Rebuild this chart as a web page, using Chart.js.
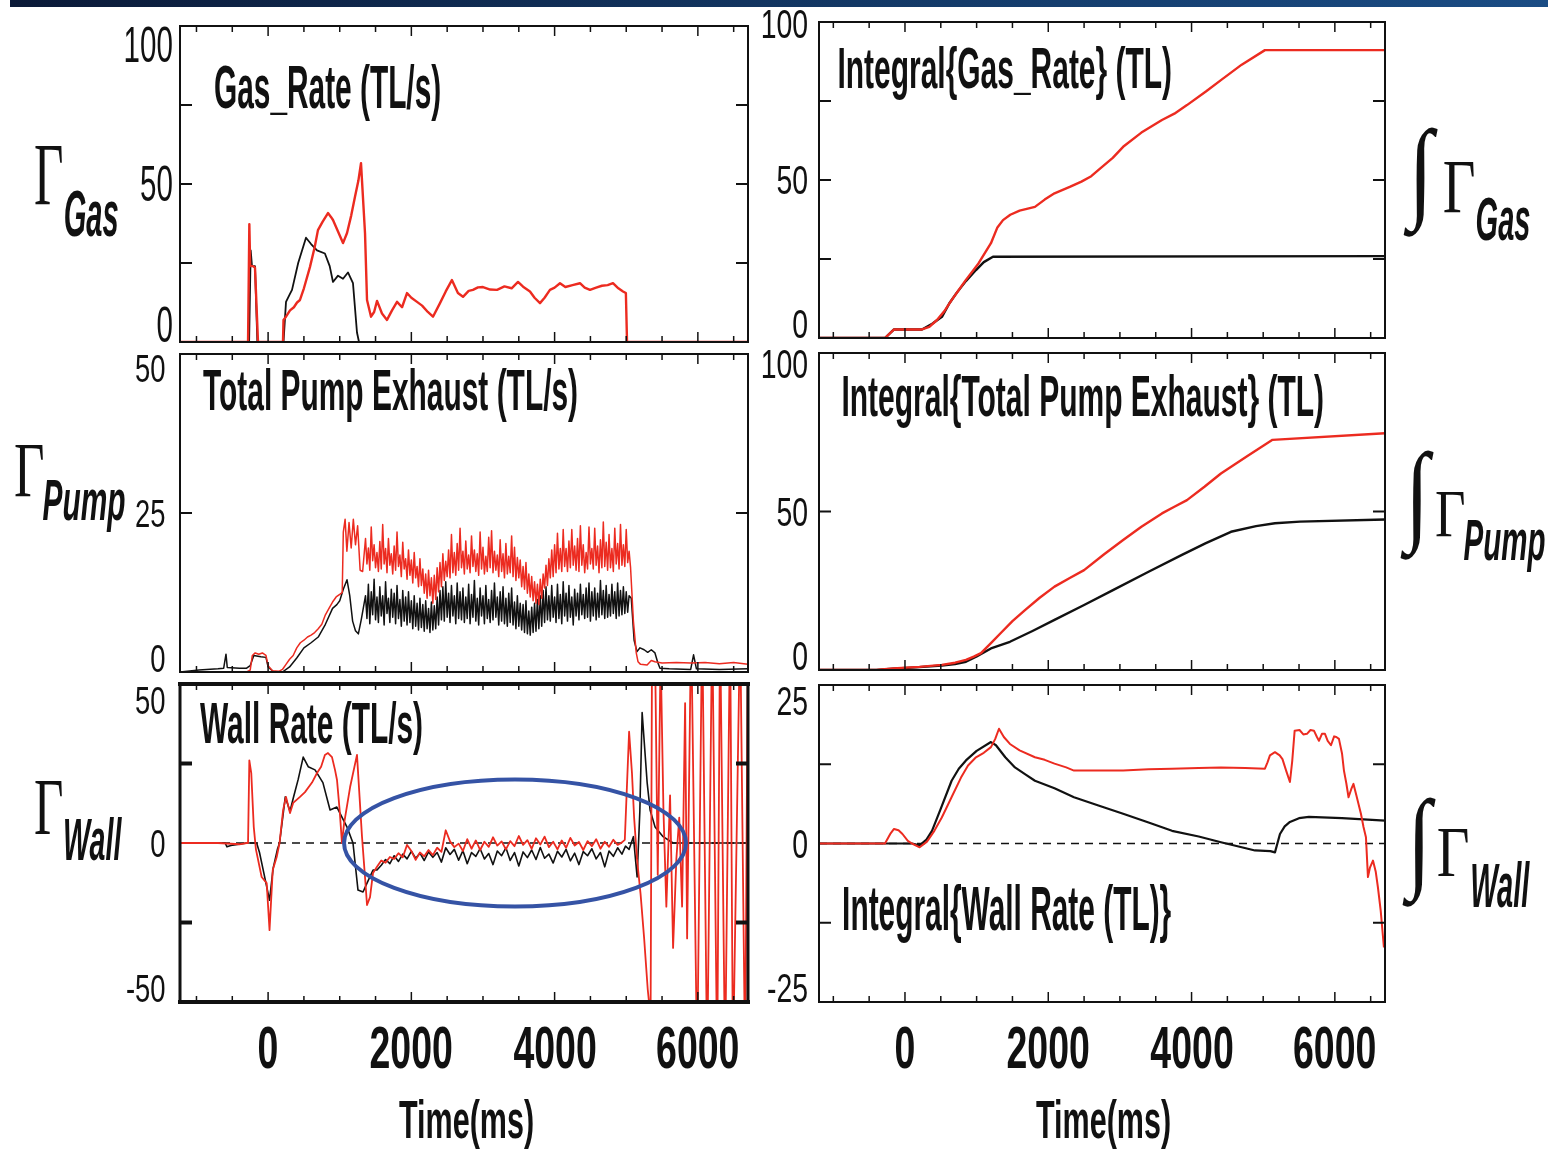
<!DOCTYPE html>
<html lang="en">
<head>
<meta charset="UTF-8">
<title>Gas, pump and wall particle balance</title>
<script src="https://cdn.jsdelivr.net/npm/chart.js"></script>
<style>
    body { margin: 0; background: #ffffff; }
    #page { position: relative; width: 1548px; height: 1151px; overflow: hidden; background: #ffffff; }
    #topbar { position: absolute; left: 10px; top: 0; width: 1538px; height: 7px;
              background: linear-gradient(90deg, #0b1a38 0%, #133865 55%, #1a4c84 100%); }
    #page canvas { position: absolute; left: 0; top: 0; }
</style>
</head>
<body>
<div id="page"><div id="topbar"></div></div>
<script>
// ---- time axis ticks (ms) ----
const xTickLabels = [0, 2000, 4000, 6000];
const xMinorStep = 500;

// ---- Gas_Rate (TL/s) : [time ms, value] ----
const gasRateBlack = [[-1230,0],[-265,0],[-255,0],[-243,29],[-225,24],[-183,24],[-150,0],[215,0],[250,12.7],[300,15],
    [334,16.5],[420,25],[529,33],[600,31],[683,29],[793,28],[860,24],[906,19],[976,21],[1046,20],[1115,22],
    [1185,18.6],[1241,3],[1269,0],[6700,0]];
const gasRateRed = [[-1230,0],[-280,0],[-262,37.3],[-250,24],[-211,24],[-183,23.5],[-141,0],[208,0],[215,7],[250,8],
    [306,10],[360,11],[404,12.5],[445,13.3],[500,17],[584,23.7],[650,30],[696,35.4],[760,38],[836,40.8],[880,39.5],
    [906,38.6],[976,35],[1046,31.3],[1102,34.5],[1160,40],[1213,46],[1260,51],[1297,56.6],[1353,34.5],[1381,13.3],
    [1437,8],[1480,9.5],[1521,13],[1590,9],[1660,7],[1730,10],[1800,12.7],[1870,11],[1939,15.5],[2000,14],
    [2079,12.7],[2150,11.5],[2230,9.5],[2302,8],[2400,12.3],[2480,16],[2566,19.6],[2650,15.5],[2721,14.3],
    [2800,16.2],[2860,16.5],[2930,17.3],[3000,17.4],[3100,16.6],[3196,16.5],[3300,17.6],[3400,17],[3489,19],
    [3560,17.5],[3656,16],[3720,14],[3796,12.3],[3860,14],[3935,16.5],[4000,17.2],[4075,18.6],[4150,17.4],
    [4250,18],[4354,18.6],[4420,17.2],[4494,16.5],[4580,17.2],[4660,17.8],[4740,18],[4815,18.6],[4890,17],
    [4955,16],[4995,15.5],[5011,0],[6700,0]];

// ---- Integral{Gas_Rate} (TL) ----
const gasIntRed = [[-1200,0],[-279,0],[-153,2.7],[237,2.7],[340,3.5],[447,5.7],[550,8.5],[651,12],[751,15.2],
    [851,18.4],[1026,23.6],[1200,30],[1290,35],[1368,37.3],[1470,39],[1600,40.3],[1814,41.5],[1950,43.8],
    [2087,45.8],[2300,47.8],[2463,49.5],[2600,51.2],[2702,53.2],[2900,57],[3045,60.5],[3300,65],[3587,69],
    [3760,71],[3936,73.7],[4200,78],[4410,81.6],[4700,86.5],[5024,91.1],[6700,91.1]];
const gasIntBlack = [[-1200,0],[-279,0],[-153,2.7],[237,2.7],[380,4.5],[516,6.7],[620,11],[719,14.2],[850,18],
    [991,21.5],[1100,24],[1228,25.7],[6700,25.9]];

// ---- Total Pump Exhaust (TL/s) ----
const pumpRedStart = [[-1230,0],[-300,0],[-250,0.3],[-220,2.6],[-180,3],[-130,2.8],[-80,3],[-30,2.6],[0,1],[60,0.2],
    [150,0.1],[200,0.4],[250,1.2],[300,2],[350,2.6],[400,3.8],[450,4.6],[500,5],[550,5.5],[600,5.8],[650,6.2],
    [700,6.8],[750,7.5],[800,9],[850,10],[900,11],[950,11.8],[1000,12.2],[1035,12.5],[1050,22],[1075,24],
    [1100,19],[1130,23.5],[1160,19.5],[1190,24],[1220,20],[1250,23],[1285,16],[1320,15.8]];
const pumpBlackStart = [[-1230,0],[-965,0.3],[-700,0.5],[-620,0.6],[-588,2.8],[-570,0.7],[-400,0.6],[-300,0.6],
    [-250,1],[-200,2.6],[-100,2.4],[-30,2.3],[0,0.8],[80,0],[200,0],[300,0.8],[400,2.2],[500,3.8],[600,4.6],
    [700,5.5],[800,7.5],[900,10],[960,10.6],[1000,11.2],[1050,13],[1102,14.5],[1140,12],[1180,8],[1220,6.5],
    [1260,6],[1300,8.2]];
// flat-top part, one reading every 20 ms from 1360 ms
const pumpBandStart = 1360, pumpBandStep = 20;
const pumpRedBand = [
    21,17,19.5,16,22.8,17.5,20,16.4,18.8,15.8,   20.5,16.2,23.2,17,19.4,15.6,21,16.8,18.6,15.4,
    19.8,16,22,16.6,18.4,15,20.4,16.2,17.8,14.6,   19.2,15.2,17.6,14,18.8,14.8,16.6,13.4,17.8,13.6,
    16.2,12.4,15.4,11.6,16,12,14.8,10.8,15.2,11.4,   16.4,12.6,17.2,13.4,18.6,14.4,17.4,15,19.2,14.8,
    21.6,15.6,18.8,15.2,20.2,16,22.6,16.4,19,15.4,   20.6,16.2,18.4,15.6,21.4,16.6,19.2,15.8,18.6,15.2,
    22,16.2,19.6,15.4,18.2,15.8,21.2,16.4,22.2,15.6,   19,16,18.4,15,20.8,15.8,18.6,14.8,20.2,15.4,
    18.2,15.6,21.4,15,19.6,14.4,18,14.8,17.6,13.4,   16.6,13,17.2,12.4,15.4,11.8,15,11.2,14.2,10.8,
    13.8,10.6,14.6,11.6,15.4,13.2,16.8,13.6,17.8,14.8,   19.2,15,20,15.6,21.8,16.2,19.4,15.8,22.4,16.6,
    19.4,15.8,20.6,16.4,22.4,16.8,19.8,16,21,15.8,   23,16.8,20,15.6,18.8,16.2,22.8,17,19.4,16.2,
    22.6,16.8,19.8,15.6,20.8,16.4,23.6,16.6,20.4,16,   21.6,16.4,19.4,15.8,22.6,17,20.2,16.2,23.2,16.8,
    20,16.6,22.4,17.2,19];
const pumpBlackBand = [
    12,8.4,13.8,7.6,12.6,9,14.6,8.2,11.8,7.8,   13.4,8.8,12,7.4,14.2,9.2,11.6,7.8,13,8.6,
    12.4,7.6,13.6,8.4,11.4,7.2,12.8,8,11.8,7.4,   12.6,7.8,11.2,6.8,12,7.2,10.8,6.6,11.6,7,
    10.6,6.4,11.2,6.8,10,6.2,11,6.6,10.4,6.8,   11.8,7.4,12.8,8.2,13.4,8,14.2,8.6,12.4,7.8,
    13.6,8.8,12,7.6,14,8.4,12.6,8.2,13.2,7.8,   11.8,8.4,13.8,7.6,12.2,8.6,14.4,8,11.6,7.4,
    13.2,8.8,12,7.6,13.6,8.4,11.4,7.8,12.8,8.2,   14,8.6,11.8,7.4,12.6,8,13.4,7.6,11.6,7.2,
    12.4,7.8,13.2,7.4,11,6.8,12,7.2,10.8,6.6,   10.6,6.2,11.2,6,9.6,5.8,10.2,6.2,10.8,6.4,
    11.4,6.8,12,7.2,12.8,7.8,13.4,8.2,12,8,   13.6,8.6,11.8,7.8,13.8,8.4,12.2,7.6,14.2,8.8,
    12.4,8,13.6,8.6,11.8,7.4,13,8.8,12.4,8.2,   13.8,9,12.2,8.4,13.2,8.6,14,8,12.6,8.8,
    13.2,8.2,12.4,8.6,14.4,9,12.8,8.4,13.6,8.6,   12.2,8.8,13.8,9.2,12.6,8.4,14,8.8,12.8,9,
    13.4,9.2,12.6,9.4,12];
const pumpRedEnd = [[5060,16.5],[5100,8],[5140,3],[5165,1.6],[5200,1.2],[5291,1.1],[5350,1.8],[5400,1.6],
    [5500,1.4],[5700,1.5],[5900,1.4],[6100,1.5],[6300,1.3],[6500,1.5],[6700,1.2]];
const pumpBlackEnd = [[5070,11.6],[5110,5],[5150,3.2],[5192,3.8],[5250,3.5],[5300,3.1],[5350,3.5],[5401,3],
    [5440,1.5],[5471,0.6],[5600,0.5],[5900,0.4],[5940,2.7],[5980,0.5],[6300,0.4],[6700,0.5]];

// ---- Integral{Total Pump Exhaust} (TL) ----
const pumpIntRed = [[-1200,0],[-400,0],[-167,0.5],[200,1],[514,1.6],[700,2.3],[851,3.2],[960,4.2],[1061,5.3],
    [1200,8.5],[1334,11.6],[1500,15.4],[1675,18.9],[1880,22.8],[2087,26.3],[2300,29],[2500,31.5],[2780,36.5],
    [3045,41],[3300,45.2],[3587,49.4],[3760,51.5],[3936,53.6],[4180,57.8],[4410,62],[4780,67.5],[5130,72.6],
    [6700,74.7]];
const pumpIntBlack = [[-1200,0],[-400,0],[-167,0.4],[200,0.9],[514,1.4],[700,1.9],[851,2.6],[1000,4.3],[1200,6.8],
    [1465,8.9],[1780,12.3],[2087,15.8],[2500,20.5],[2903,25.2],[3400,31],[3866,36.3],[4200,40],[4550,43.6],
    [4900,45.4],[5164,46.3],[5513,46.8],[6700,47.5]];

// ---- Wall Rate (TL/s) ----
const wallRedStart = [[-1230,0],[-700,0],[-400,-0.4],[-300,0],[-280,0],[-262,26],[-235,22],[-200,5],[-170,-2],
    [-90,-10.7],[-20,-12.6],[20,-27.4],[65,-8.5],[120,-4.4],[160,0],[210,10.4],[250,14.5],[306,9.4],[350,12.6],
    [445,14.5],[515,16],[613,19],[683,22],[740,24],[793,27.7],[836,28.3],[892,27],[934,23],[962,19.8],[1000,10],
    [1031,0],[1060,6],[1145,17.6],[1241,27.7],[1311,2],[1353,-10.7],[1381,-19.5],[1423,-17],[1465,-9.4]];
const wallBlackStart = [[-1230,0],[-600,0],[-574,-1.2],[-520,-0.8],[-450,-0.5],[-300,0],[-160,0],[-120,-3],
    [-60,-9.4],[20,-18],[70,-8],[130,-2],[160,0],[240,14.5],[306,10],[350,14],[420,20],[490,27],[560,24],
    [655,23],[765,19],[865,10.4],[960,11.3],[1102,5],[1185,0],[1255,-14.8],[1325,-15.4],[1381,-12.6],[1465,-8.5]];
// quiet phase, one reading every 60 ms from 1520 ms
const wallBandStart = 1520, wallBandStep = 60;
const wallRedBand = [-7.5,-5.5,-6.2,-4.4,-5,-3.2,-4.5,-0.6,-2.5,-5.3,-3,-4.2,-2.2,-3.8,-1.5,-2.8,4,0.5,-1.3,-0.2,
    -2.5,1.2,-1.8,0.8,-2.2,0.4,-1.2,1.8,-0.8,0.5,-2,0.6,-1,2.2,-0.6,0.9,-1.8,1.5,-0.5,2,-1.3,0.4,-2,0.8,-1.5,1.6,
    -0.8,0.3,-2.2,0.6,-1,1.2,-1.8,0.4,-1.2,1,-0.6,0.2];
const wallBlackBand = [-8.5,-7,-5.2,-6.5,-4,-5.8,-3.5,-5,-2.6,-4.8,-3.2,-5.5,-2.8,-4.5,-3,-6,-1.5,-3.6,-2,-5.4,
    -2.4,-6.5,-3,-4.2,-1.8,-5,-3.3,-6.8,-2.5,-4,-1.5,-5.5,-3,-7.2,-2.8,-4.6,-2.2,-5.2,-1.4,-4.8,-3.5,-6.3,-2.6,
    -4.4,-2,-5.6,-3.2,-6.8,-2.7,-4,-1.8,-5,-3,-7.5,-2.5,-4.2,-1.5,-3.5];
const wallRedEnd = [[4980,1],[5040,35],[5080,22],[5110,8],[5150,-5],[5200,-16],[5250,-30],[5300,-46],[5340,-55],
    [5360,60],[5400,65],[5440,-10],[5480,60],[5520,10],[5560,-20],[5612,15],[5654,-33],[5700,-5],[5740,8],
    [5780,-20],[5822,44],[5850,-30],[5906,70],[5990,-70],[6060,70],[6130,-70],[6200,70],[6270,-70],[6310,70],
    [6380,-70],[6450,70],[6490,-70],[6590,70],[6660,-70],[6700,70]];
const wallBlackEnd = [[4990,-1],[5040,-2],[5100,2],[5152,-10.7],[5190,10],[5222,41],[5292,19],[5333,10.4],
    [5403,5],[5515,2],[5654,0],[6700,0]];
// quiet-phase highlight: centre (ms, TL/s) and half widths
const wallHighlight = { t: 3447, v: 0, dt: 2387, dv: 20 };

// ---- Integral{Wall Rate} (TL) ----
const wallIntRed = [[-1200,0],[-279,0],[-200,1.6],[-153,2.3],[-90,2.1],[-35,1.5],[40,0.4],[98,0],[205,-0.6],
    [307,0.3],[410,2],[514,4.1],[650,7.3],[782,10.4],[880,12.3],[991,13.6],[1100,14.3],[1200,15.2],[1260,16.5],
    [1312,18.1],[1380,16.8],[1465,15.7],[1600,14.7],[1814,13.6],[1950,13.2],[2087,12.6],[2250,12],[2359,11.5],
    [2700,11.5],[3045,11.5],[3400,11.7],[3727,11.8],[4100,11.9],[4410,12],[4750,11.9],[5024,11.8],[5060,12.8],
    [5094,13.9],[5164,14.4],[5230,13.9],[5269,13.3],[5320,11.5],[5373,9.7],[5405,13],[5439,17.8],[5507,17.9],
    [5560,17.2],[5611,17.3],[5660,17.9],[5708,17.8],[5750,16.8],[5778,16.2],[5820,17.3],[5862,17.3],[5900,16.2],
    [5946,15.5],[5990,16.9],[6020,16.8],[6057,16.5],[6100,14.2],[6127,11.5],[6160,9.5],[6191,7.3],[6230,8.6],
    [6260,9.4],[6300,7.6],[6364,4.7],[6400,2.6],[6434,1],[6462,-5.3],[6490,-3.8],[6532,-2.7],[6570,-4.4],
    [6601,-6.9],[6640,-10.6],[6685,-16.4]];
const wallIntBlack = [[-1200,0],[98,0],[205,-0.3],[300,0.6],[377,2],[500,5.5],[651,9.9],[751,11.8],[851,13.1],
    [1000,14.6],[1200,16],[1270,15.5],[1400,13.6],[1535,12],[1680,10.9],[1814,9.9],[2087,8.7],[2359,7.3],
    [2700,6],[3045,4.7],[3400,3.3],[3727,2],[4100,1.1],[4410,0.2],[4700,-0.6],[4885,-1.1],[5100,-1.2],
    [5164,-1.4],[5234,1.5],[5300,2.7],[5373,3.4],[5500,4],[5638,4.2],[6100,4],[6700,3.6]];

// ---- y-axis ticks and labels per panel ----
const gasTicks = [25, 50, 75],       gasLabels = [100, 50, 0];
const pumpTicks = [25],              pumpLabels = [50, 25, 0];
const wallTicks = [25, -25],         wallLabels = [50, 0, -50];
const intGasTicks = [25, 50, 75],    intGasLabels = [100, 50, 0];
const intPumpTicks = [50],           intPumpLabels = [100, 50, 0];
const intWallTicks = [12.5, -12.5],  intWallLabels = [25, 0, -25];

// ---------------------------------------------------------------------------
const W = 1548, H = 1151;
const RED = '#ec2b20', INK = '#111111';
const SANS = '"Liberation Sans", Arial, Helvetica, sans-serif';
const SERIF = '"Liberation Serif", "Times New Roman", serif';

function pts(pairs) { return pairs.map(p => ({ x: p[0], y: p[1] })); }
function band(start, step, values) { return values.map((v, i) => [start + i * step, v]); }

function fontStr(o, size) {
    return (o.style || 'normal') + ' ' + (o.weight || 'normal') + ' ' + size + 'px ' + (o.family || SANS);
}

// text placed by cap top / baseline, squeezed horizontally to a width or by a factor
function drawLabel(ctx, str, o) {
    ctx.font = fontStr(o, 100);
    const capRatio = ctx.measureText('H').actualBoundingBoxAscent / 100;
    const size = (o.baseline - o.capTop) / capRatio;
    ctx.font = fontStr(o, size);
    const m = ctx.measureText(str);
    const inkW = m.actualBoundingBoxLeft + m.actualBoundingBoxRight;
    const sx = o.width ? o.width / inkW : o.sx;
    const w = inkW * sx;
    let left = o.left;
    if (o.right !== undefined) left = o.right - w;
    if (o.center !== undefined) left = o.center - w / 2;
    ctx.save();
    ctx.translate(left, o.baseline);
    ctx.scale(sx, 1);
    ctx.textAlign = 'left';
    ctx.textBaseline = 'alphabetic';
    ctx.fillStyle = INK;
    ctx.fillText(str, m.actualBoundingBoxLeft, 0);
    ctx.restore();
}

// glyph stretched to fill an ink box [left, top, right, bottom]
function drawInk(ctx, str, o, box) {
    ctx.font = fontStr(o, 100);
    const m = ctx.measureText(str);
    const w = m.actualBoundingBoxLeft + m.actualBoundingBoxRight;
    const h = m.actualBoundingBoxAscent + m.actualBoundingBoxDescent;
    ctx.save();
    ctx.translate(box[0], box[1]);
    ctx.scale((box[2] - box[0]) / w, (box[3] - box[1]) / h);
    ctx.textAlign = 'left';
    ctx.textBaseline = 'alphabetic';
    ctx.fillStyle = INK;
    ctx.fillText(str, m.actualBoundingBoxLeft, m.actualBoundingBoxAscent);
    ctx.restore();
}

function seg(ctx, x1, y1, x2, y2, lw) {
    ctx.lineWidth = lw;
    ctx.beginPath();
    ctx.moveTo(x1, y1);
    ctx.lineTo(x2, y2);
    ctx.stroke();
}

const framePlugin = {
    id: 'frame',
    afterDatasetsDraw(chart, args, o) {
        const ctx = chart.ctx, a = chart.chartArea;
        const xs = chart.scales.x, ys = chart.scales.y;
        ctx.save();

        if (o.highlight) {
            const e = o.highlight;
            const cx = xs.getPixelForValue(e.t), cy = ys.getPixelForValue(e.v);
            const rx = xs.getPixelForValue(e.t + e.dt) - cx;
            const ry = cy - ys.getPixelForValue(e.v + e.dv);
            ctx.beginPath();
            ctx.ellipse(cx, cy, rx, ry, 0, 0, Math.PI * 2);
            ctx.lineWidth = 4;
            ctx.strokeStyle = '#3553a5';
            ctx.stroke();
        }

        // box
        ctx.strokeStyle = INK;
        ctx.lineCap = 'square';
        const b = o.border;
        seg(ctx, a.left, a.top, a.right, a.top, b[0]);
        seg(ctx, a.right, a.top, a.right, a.bottom, b[1]);
        seg(ctx, a.left, a.bottom, a.right, a.bottom, b[2]);
        seg(ctx, a.left, a.top, a.left, a.bottom, b[3]);
        ctx.lineCap = 'butt';

        // time ticks, top and bottom, pointing inward
        for (let t = Math.ceil(xs.min / xMinorStep) * xMinorStep; t <= xs.max; t += xMinorStep) {
            const px = xs.getPixelForValue(t);
            const len = xTickLabels.includes(t) ? 10 : 6;
            seg(ctx, px, a.top, px, a.top + len, 1.5);
            seg(ctx, px, a.bottom, px, a.bottom - len, 1.5);
        }
        // value ticks, left and right
        o.yTicks.forEach(v => {
            const py = ys.getPixelForValue(v);
            seg(ctx, a.left, py, a.left + 12, py, o.yTickWidth);
            seg(ctx, a.right - 12, py, a.right, py, o.yTickWidth);
        });

        // value labels
        o.yLabels.forEach(v => {
            const py = ys.getPixelForValue(v);
            let top = py - o.labelH / 2;
            top = Math.max(top, o.labelTop);
            if (top + o.labelH > a.bottom) top = a.bottom - o.labelH;
            drawLabel(ctx, String(v), { right: o.labelRight, capTop: top, baseline: top + o.labelH, sx: o.labelSx });
        });

        // time labels under the bottom row
        if (o.timeAxis) {
            xTickLabels.forEach(t => {
                drawLabel(ctx, String(t), { center: xs.getPixelForValue(t), capTop: 1027, baseline: 1068,
                    sx: 0.64, weight: 'bold' });
            });
            drawLabel(ctx, 'Time(ms)', { center: o.timeAxis.center, capTop: 1100, baseline: 1138,
                width: 134, weight: 'bold' });
        }

        // panel title
        const t = o.title;
        drawLabel(ctx, t.text, { left: t.left, capTop: t.capTop, baseline: t.baseline, width: t.width, weight: 'bold' });

        // quantity symbol beside the panel
        const s = o.symbol;
        if (s.integral) drawInk(ctx, '\u222B', { family: SERIF }, s.integral);
        drawInk(ctx, '\u0393', { family: SERIF }, s.gamma);
        drawLabel(ctx, s.sub, { left: s.subLeft, capTop: s.subTop, baseline: s.subBase, width: s.subWidth,
            weight: 'bold', style: 'italic' });

        ctx.restore();
    }
};

function lineSet(pairs, color, width, order) {
    return { data: pts(pairs), borderColor: color, borderWidth: width, pointRadius: 0, tension: 0,
             borderJoinStyle: 'round', order: order };
}

function zeroSet(xMin, xMax) {
    return { data: pts([[xMin, 0], [xMax, 0]]), borderColor: INK, borderWidth: 1.5, borderDash: [8, 6],
             pointRadius: 0, order: 10 };
}

const page = document.getElementById('page');

function makePanel(p) {
    const canvas = document.createElement('canvas');
    canvas.width = W;
    canvas.height = H;
    page.appendChild(canvas);
    new Chart(canvas, {
        type: 'line',
        data: { datasets: p.datasets },
        options: {
            responsive: false,
            animation: false,
            events: [],
            layout: { padding: { left: p.box[0], top: p.box[1], right: W - p.box[2], bottom: H - p.box[3] } },
            scales: {
                x: { type: 'linear', min: p.xRange[0], max: p.xRange[1], display: false },
                y: { type: 'linear', min: p.yRange[0], max: p.yRange[1], display: false }
            },
            plugins: { legend: { display: false }, tooltip: { enabled: false }, frame: p.frame }
        },
        plugins: [framePlugin]
    });
}

const LX = [-1230, 6700], RX = [-1200, 6700];

// left column: rates
makePanel({
    box: [180, 26, 748, 342], xRange: LX, yRange: [0, 100],
    datasets: [lineSet(gasRateRed, RED, 2.4, 1), lineSet(gasRateBlack, INK, 1.8, 2)],
    frame: { border: [2, 2, 2, 2], yTicks: gasTicks, yTickWidth: 2, yLabels: gasLabels, labelH: 34, labelSx: 0.6,
             labelRight: 172, labelTop: 28,
             title: { text: 'Gas_Rate (TL/s)', left: 215, capTop: 65, baseline: 108, width: 225 },
             symbol: { gamma: [35, 147, 62, 205], sub: 'Gas', subLeft: 65, subTop: 190, subBase: 236, subWidth: 53 } }
});
makePanel({
    box: [180, 354, 748, 672], xRange: LX, yRange: [0, 50],
    datasets: [
        lineSet(pumpRedStart.concat(band(pumpBandStart, pumpBandStep, pumpRedBand), pumpRedEnd), RED, 1.5, 1),
        lineSet(pumpBlackStart.concat(band(pumpBandStart, pumpBandStep, pumpBlackBand), pumpBlackEnd), INK, 1.5, 2)
    ],
    frame: { border: [2, 2, 2, 2], yTicks: pumpTicks, yTickWidth: 2, yLabels: pumpLabels, labelH: 27, labelSx: 0.7,
             labelRight: 165, labelTop: 355,
             title: { text: 'Total Pump Exhaust (TL/s)', left: 203, capTop: 370, baseline: 410, width: 374 },
             symbol: { gamma: [15, 445, 43, 497], sub: 'Pump', subLeft: 43, subTop: 480, subBase: 520, subWidth: 82 } }
});
makePanel({
    box: [180, 684, 748, 1002], xRange: LX, yRange: [-50, 50],
    datasets: [
        lineSet(wallRedStart.concat(band(wallBandStart, wallBandStep, wallRedBand), wallRedEnd), RED, 1.8, 1),
        lineSet(wallBlackStart.concat(band(wallBandStart, wallBandStep, wallBlackBand), wallBlackEnd), INK, 1.6, 2),
        zeroSet(LX[0], LX[1])
    ],
    frame: { border: [4, 3, 4, 3], yTicks: wallTicks, yTickWidth: 4, yLabels: wallLabels, labelH: 27, labelSx: 0.7,
             labelRight: 165, labelTop: 687, highlight: wallHighlight, timeAxis: { center: 466 },
             title: { text: 'Wall Rate (TL/s)', left: 200, capTop: 703, baseline: 743, width: 222 },
             symbol: { gamma: [35, 782, 62, 835], sub: 'Wall', subLeft: 65, subTop: 818, subBase: 860, subWidth: 57 } }
});

// right column: integrals
makePanel({
    box: [819, 22, 1385, 338], xRange: RX, yRange: [0, 100],
    datasets: [lineSet(gasIntRed, RED, 2.4, 1), lineSet(gasIntBlack, INK, 2.4, 2)],
    frame: { border: [2, 2, 2, 2], yTicks: intGasTicks, yTickWidth: 2, yLabels: intGasLabels, labelH: 28, labelSx: 0.7,
             labelRight: 807, labelTop: 10,
             title: { text: 'Integral{Gas_Rate} (TL)', left: 839, capTop: 48, baseline: 88, width: 332 },
             symbol: { integral: [1403, 127, 1438, 237], gamma: [1444, 163, 1474, 213], sub: 'Gas',
                       subLeft: 1477, subTop: 197, subBase: 240, subWidth: 53 } }
});
makePanel({
    box: [819, 353, 1385, 670], xRange: RX, yRange: [0, 100],
    datasets: [lineSet(pumpIntRed, RED, 2.4, 1), lineSet(pumpIntBlack, INK, 2.4, 2)],
    frame: { border: [2, 2, 2, 2], yTicks: intPumpTicks, yTickWidth: 2, yLabels: intPumpLabels, labelH: 28, labelSx: 0.7,
             labelRight: 807, labelTop: 350,
             title: { text: 'Integral{Total Pump Exhaust} (TL)', left: 843, capTop: 376, baseline: 416, width: 480 },
             symbol: { integral: [1400, 450, 1434, 560], gamma: [1436, 492, 1464, 537], sub: 'Pump',
                       subLeft: 1464, subTop: 520, subBase: 560, subWidth: 81 } }
});
makePanel({
    box: [819, 685, 1385, 1002], xRange: RX, yRange: [-25, 25],
    datasets: [lineSet(wallIntRed, RED, 2, 1), lineSet(wallIntBlack, INK, 2.2, 2), zeroSet(RX[0], RX[1])],
    frame: { border: [2, 2, 2, 2], yTicks: intWallTicks, yTickWidth: 2, yLabels: intWallLabels, labelH: 28, labelSx: 0.7,
             labelRight: 807, labelTop: 687, timeAxis: { center: 1103 },
             title: { text: 'Integral{Wall Rate (TL)}', left: 844, capTop: 886, baseline: 930, width: 327 },
             symbol: { integral: [1402, 797, 1436, 907], gamma: [1438, 830, 1468, 877], sub: 'Wall',
                       subLeft: 1472, subTop: 863, subBase: 907, subWidth: 58 } }
});
</script>
</body>
</html>
